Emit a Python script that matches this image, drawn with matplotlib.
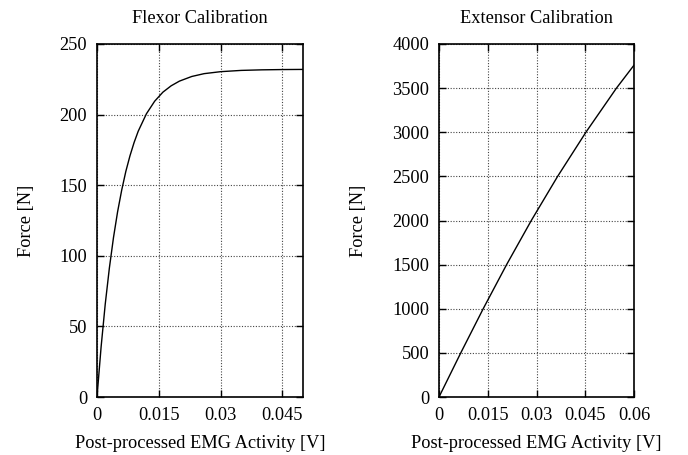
import matplotlib
matplotlib.use("Agg")
import matplotlib.pyplot as plt

plt.rcParams['font.family'] = ['Liberation Serif', 'DejaVu Serif']

# Flexor calibration
flex_x = [0, 0.001, 0.002, 0.003, 0.004, 0.005, 0.006, 0.007, 0.008, 0.009,
          0.010, 0.012, 0.014, 0.016, 0.018, 0.020, 0.023, 0.026, 0.030,
          0.035, 0.040, 0.045, 0.050]
flex_y = [0, 35.6, 65.8, 91.3, 112.9, 131.2, 146.6, 159.8, 170.8, 180.2,
          188.2, 200.6, 209.5, 215.9, 220.4, 223.7, 227.0, 229.0, 230.4,
          231.3, 231.7, 231.9, 232.0]

# Extensor calibration
ext_x = [0, 0.0067, 0.0136, 0.0208, 0.0284, 0.0365, 0.0452, 0.0546, 0.060]
ext_y = [0, 500, 1000, 1500, 2000, 2500, 3000, 3500, 3760]

flex_xticks = [0, 0.015, 0.03, 0.045]
flex_xticklabels = ['0', '0.015', '0.03', '0.045']
flex_yticks = [0, 50, 100, 150, 200, 250]
ext_xticks = [0, 0.015, 0.03, 0.045, 0.06]
ext_xticklabels = ['0', '0.015', '0.03', '0.045', '0.06']
ext_yticks = [0, 500, 1000, 1500, 2000, 2500, 3000, 3500, 4000]

FS = 13.2

fig = plt.figure(figsize=(6.88, 4.55), dpi=100)
ax1 = fig.add_axes([97/688, 58/455, 206/688, 353/455])
ax2 = fig.add_axes([439/688, 58/455, 195/688, 353/455])

def style(ax, title, xt, xtl, yt, xlim, ylim):
    ax.set_xlim(*xlim)
    ax.set_ylim(*ylim)
    ax.set_xticks(xt)
    ax.set_xticklabels(xtl)
    ax.set_yticks(yt)
    ax.set_yticklabels([str(v) for v in yt])
    ax.tick_params(direction='in', top=True, right=True, length=5, width=1,
                   labelsize=FS, pad=7, colors='black')
    ax.grid(True, linestyle=(0, (1, 1.5)), color='#444444', linewidth=0.8)
    for s in ax.spines.values():
        s.set_linewidth(1.2)
    ax.set_title(title, fontsize=FS, pad=15)
    ax.set_xlabel('Post-processed EMG Activity [V]', fontsize=FS, labelpad=8)
    ax.set_ylabel('Force [N]', fontsize=FS, labelpad=18)

ax1.plot(flex_x, flex_y, color='black', linewidth=1.0)
style(ax1, 'Flexor Calibration', flex_xticks, flex_xticklabels, flex_yticks,
      (0, 0.05), (0, 250))

ax2.plot(ext_x, ext_y, color='black', linewidth=1.0)
style(ax2, 'Extensor Calibration', ext_xticks, ext_xticklabels, ext_yticks,
      (0, 0.06), (0, 4000))

fig.savefig('out.png', dpi=100)
